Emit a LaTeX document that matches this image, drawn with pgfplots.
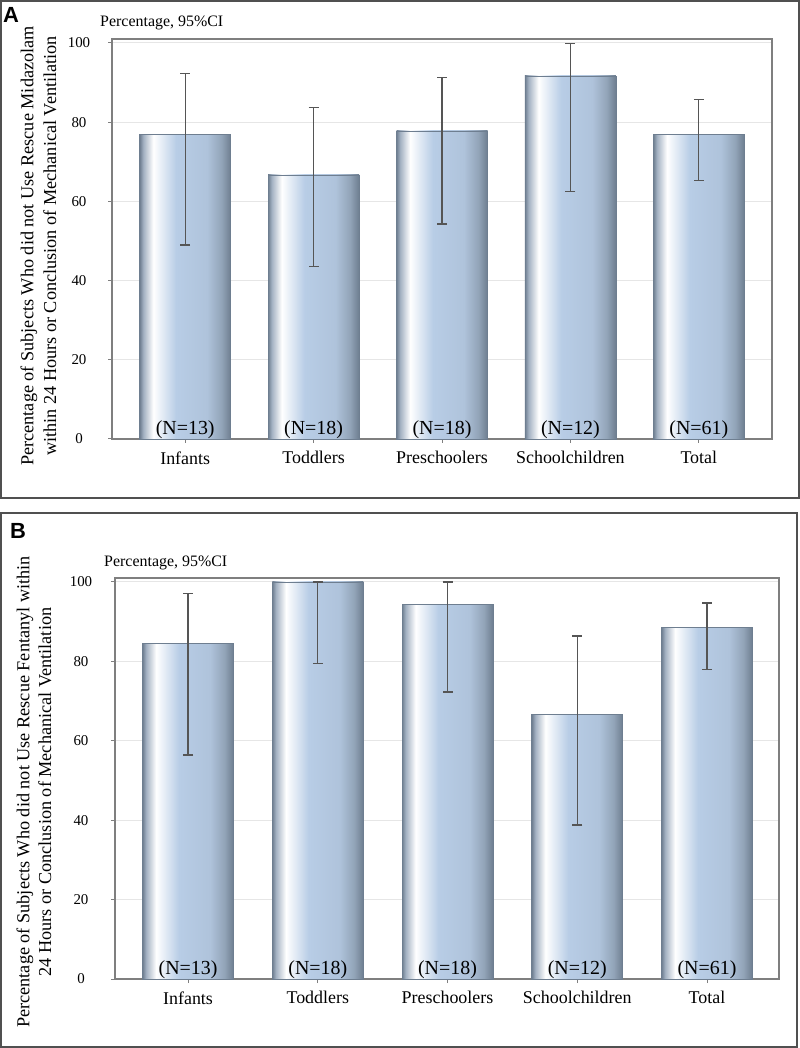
\documentclass[border=0pt]{standalone}
\usepackage{fontspec}
\setmainfont{Liberation Serif}
\newfontfamily\panelfont{Liberation Sans}
\usepackage{pgfplots}
\pgfplotsset{compat=1.18}

\definecolor{bardark}{HTML}{6E7E90}
\definecolor{barmid}{HTML}{A3B1C2}
\definecolor{barlight}{HTML}{B8CDE6}
\definecolor{barlight2}{HTML}{AFC3DB}
\definecolor{barshadow}{HTML}{92A4B8}
\definecolor{gridc}{HTML}{E6E6E6}
\definecolor{framec}{HTML}{7F7F7F}
\definecolor{errc}{HTML}{555555}
\definecolor{panelc}{HTML}{505050}

\pgfdeclarehorizontalshading{barshade}{100bp}{
  color(0bp)=(bardark); color(25bp)=(bardark); color(27bp)=(barmid);
  color(32.5bp)=(white); color(45bp)=(barlight); color(62bp)=(barlight2);
  color(70bp)=(barshadow); color(75bp)=(bardark); color(100bp)=(bardark)}

\pgfplotsset{
  resc/.style={
    scale only axis,
    clip=false,
    ymin=0, ymax=101,
    xtick={0,1,2,3,4},
    xticklabels={Infants,Toddlers,Preschoolers,Schoolchildren,Total},
    ytick={0,20,40,60,80,100},
    ymajorgrids,
    grid style={draw=gridc, line width=1bp},
    axis line style={draw=framec, line width=1.2bp},
    tick align=outside, tick pos=left, major tick length=4bp,
    tick style={draw=framec, line width=1bp},
    /pgf/number format/assume math mode=true,
    yticklabel style={font=\fontsize{15}{18}\selectfont, anchor=center, xshift=-29bp},
    xticklabel style={font=\fontsize{18}{22}\selectfont, yshift=-5bp},
  },
  rescbar/.style={
    ybar, bar width=91bp, shading=barshade, draw=bardark, line width=0.6bp,
    error bars/.cd, y dir=both, y explicit,
    error bar style={draw=errc, line width=1.2bp},
    error mark options={rotate=90, mark size=5bp, draw=errc, line width=1.2bp},
  },
}

\newcommand{\nlab}[2]{\node[font=\fontsize{20}{24}\selectfont, anchor=base, inner sep=0] at (axis cs:#1,1.2) {(N=#2)};}

\begin{document}
\begin{tikzpicture}
\useasboundingbox (0,0) rectangle (800bp,1048bp);

% panel frames
\draw[panelc, line width=1.5bp] (1bp,550bp) rectangle (799bp,1047bp);
\draw[panelc, line width=1.5bp] (1bp,1bp) rectangle (797bp,535bp);

\node[font=\panelfont\bfseries\fontsize{22}{26}\selectfont, anchor=base west, inner sep=0] at (3bp,1025bp) {A};
\node[font=\panelfont\bfseries\fontsize{22}{26}\selectfont, anchor=base west, inner sep=0] at (10bp,509bp) {B};

\node[font=\fontsize{16}{19}\selectfont, anchor=west, inner sep=0] at (100bp,1025bp) {Percentage, 95\%CI};
\node[font=\fontsize{16}{19}\selectfont, anchor=west, inner sep=0] at (104bp,485bp) {Percentage, 95\%CI};

\node[rotate=90, align=center, font=\fontsize{18.3}{23}\selectfont, inner sep=0] at (38.5bp,802bp)
  {Percentage of Subjects Who did not Use Rescue Midazolam\\within 24 Hours or Conclusion of Mechanical Ventilation};
\node[rotate=90, align=center, font=\fontsize{18.3}{22}\selectfont, inner sep=0] at (34bp,256bp)
  {Percentage of Subjects Who did not Use Rescue Fentanyl within\\24 Hours or Conclusion of Mechanical Ventilation};

% panel A: midazolam (one plot per bar so each bar gets its own shading)
\begin{axis}[resc, at={(112bp,609bp)}, anchor=south west,
  width=660bp, height=400bp, xmin=-0.57, xmax=4.57]
\addplot[rescbar] coordinates {(0,76.9) += (0,15.4) -= (0,27.9)};
\addplot[rescbar] coordinates {(1,66.7) += (0,17.1) -= (0,23.2)};
\addplot[rescbar] coordinates {(2,77.8) += (0,13.5) -= (0,23.5)};
\addplot[rescbar] coordinates {(3,91.7) += (0,8.1) -= (0,29.2)};
\addplot[rescbar] coordinates {(4,77.0) += (0,8.7) -= (0,11.8)};
\nlab{0}{13}\nlab{1}{18}\nlab{2}{18}\nlab{3}{12}\nlab{4}{61}
\end{axis}

% panel B: fentanyl
\begin{axis}[resc, at={(115bp,69bp)}, anchor=south west,
  width=664bp, height=401bp, xmin=-0.563, xmax=4.555,
  yticklabel style={xshift=-1bp}]
\addplot[rescbar] coordinates {(0,84.6) += (0,12.4) -= (0,28.2)};
\addplot[rescbar] coordinates {(1,100) += (0,0) -= (0,20.5)};
\addplot[rescbar] coordinates {(2,94.4) += (0,5.6) -= (0,22.1)};
\addplot[rescbar] coordinates {(3,66.7) += (0,19.7) -= (0,27.9)};
\addplot[rescbar] coordinates {(4,88.5) += (0,6.2) -= (0,10.6)};
\nlab{0}{13}\nlab{1}{18}\nlab{2}{18}\nlab{3}{12}\nlab{4}{61}
\end{axis}
\end{tikzpicture}
\end{document}
